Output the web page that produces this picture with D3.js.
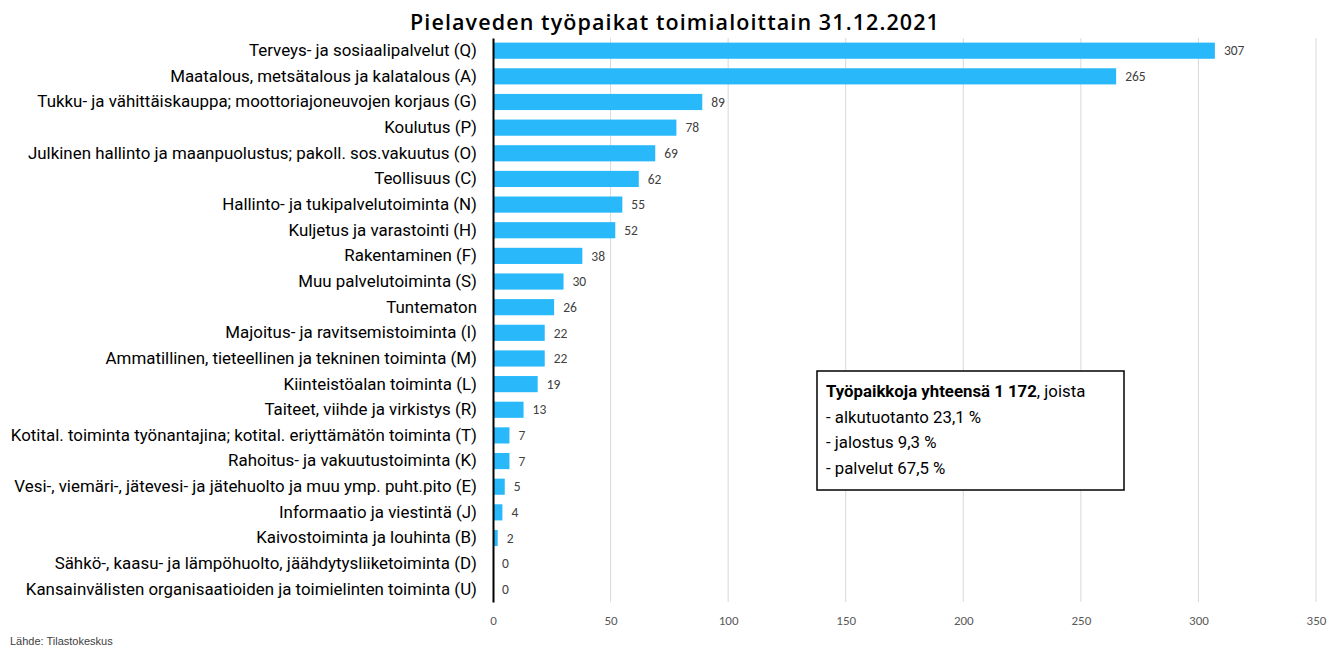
<!DOCTYPE html>
<html>
<head>
<meta charset="utf-8">
<script src="https://cdn.jsdelivr.net/npm/d3@7"></script>
<style>
  body { margin: 0; background: #fff; }
  svg { display: block; }
</style>
</head>
<body>
<div id="chart"></div>
<script>
const categories = [
    "Terveys- ja sosiaalipalvelut (Q)",
    "Maatalous, metsätalous ja kalatalous (A)",
    "Tukku- ja vähittäiskauppa; moottoriajoneuvojen korjaus (G)",
    "Koulutus (P)",
    "Julkinen hallinto ja maanpuolustus; pakoll. sos.vakuutus (O)",
    "Teollisuus (C)",
    "Hallinto- ja tukipalvelutoiminta (N)",
    "Kuljetus ja varastointi (H)",
    "Rakentaminen (F)",
    "Muu palvelutoiminta (S)",
    "Tuntematon",
    "Majoitus- ja ravitsemistoiminta (I)",
    "Ammatillinen, tieteellinen ja tekninen toiminta (M)",
    "Kiinteistöalan toiminta (L)",
    "Taiteet, viihde ja virkistys (R)",
    "Kotital. toiminta työnantajina; kotital. eriyttämätön toiminta (T)",
    "Rahoitus- ja vakuutustoiminta (K)",
    "Vesi-, viemäri-, jätevesi- ja jätehuolto ja muu ymp. puht.pito (E)",
    "Informaatio ja viestintä (J)",
    "Kaivostoiminta ja louhinta (B)",
    "Sähkö-, kaasu- ja lämpöhuolto, jäähdytysliiketoiminta (D)",
    "Kansainvälisten organisaatioiden ja toimielinten toiminta (U)"
];
const values = [307, 265, 89, 78, 69, 62, 55, 52, 38, 30, 26, 22, 22, 19, 13, 7, 7, 5, 4, 2, 0, 0];
const xTicks = [0, 50, 100, 150, 200, 250, 300, 350];
const titleText = "Pielaveden työpaikat toimialoittain 31.12.2021";
const boxLines = [
    { bold: "Työpaikkoja yhteensä 1 172", rest: ", joista" },
    { bold: "", rest: "- alkutuotanto 23,1 %" },
    { bold: "", rest: "- jalostus 9,3 %" },
    { bold: "", rest: "- palvelut 67,5 %" }
];
const sourceText = "Lähde: Tilastokeskus";

const width = 1329, height = 649;
const margin = { top: 38, right: 13, bottom: 47, left: 493 };
const labelFont = "Roboto, 'Liberation Sans', sans-serif";
const numFont = "Carlito, Calibri, 'Open Sans', sans-serif";

const svg = d3.select("#chart").append("svg")
    .attr("width", width).attr("height", height);

const x = d3.scaleLinear()
    .domain([0, 350])
    .range([margin.left, width - margin.right]);

const y = d3.scaleBand()
    .domain(categories)
    .range([margin.top, height - margin.bottom])
    .paddingInner(0.37)
    .paddingOuter(0.18);

// gridlines
svg.append("g")
    .selectAll("line")
    .data(xTicks.slice(1))
    .enter().append("line")
    .attr("x1", d => x(d)).attr("x2", d => x(d))
    .attr("y1", margin.top).attr("y2", height - margin.bottom)
    .attr("stroke", "#d9d9d9")
    .attr("stroke-width", 1);

// bars
svg.append("g")
    .selectAll("rect")
    .data(values)
    .enter().append("rect")
    .attr("x", x(0))
    .attr("y", (d, i) => y(categories[i]))
    .attr("width", d => x(d) - x(0))
    .attr("height", y.bandwidth())
    .attr("fill", "#29b9fb");

// value labels
svg.append("g")
    .selectAll("text")
    .data(values)
    .enter().append("text")
    .attr("x", d => x(d) + 9)
    .attr("y", (d, i) => y(categories[i]) + y.bandwidth() / 2)
    .attr("dy", "0.35em")
    .attr("font-family", numFont)
    .attr("font-size", 13.5)
    .attr("fill", "#404040")
    .text(d => d);

// category axis
const yAxis = svg.append("g")
    .attr("transform", `translate(${x(0)},0)`)
    .call(d3.axisLeft(y).tickSize(0).tickPadding(16));
yAxis.select(".domain").attr("stroke", "#000").attr("stroke-width", 2);
yAxis.selectAll("text")
    .attr("font-family", labelFont)
    .attr("font-size", 16.9)
    .attr("fill", "#000");

// value axis (labels only)
const xAxis = svg.append("g")
    .attr("transform", `translate(0,${height - margin.bottom})`)
    .call(d3.axisBottom(x).tickValues(xTicks).tickSize(0).tickPadding(14));
xAxis.select(".domain").remove();
xAxis.selectAll("text")
    .attr("font-family", numFont)
    .attr("font-size", 13)
    .attr("fill", "#595959");

// title
svg.append("text")
    .attr("x", 675).attr("y", 30)
    .attr("text-anchor", "middle")
    .attr("font-family", "'Open Sans', Roboto, sans-serif")
    .attr("font-weight", 600)
    .attr("font-size", 21.5)
    .attr("letter-spacing", 1.1)
    .attr("fill", "#000")
    .text(titleText);

// info box
const box = svg.append("g").attr("transform", "translate(817,371)");
box.append("rect")
    .attr("width", 307).attr("height", 119)
    .attr("fill", "#fff")
    .attr("stroke", "#000")
    .attr("stroke-width", 1.5);
const lines = box.selectAll("text")
    .data(boxLines)
    .enter().append("text")
    .attr("x", 9)
    .attr("y", (d, i) => 26 + i * 25.5)
    .attr("font-family", labelFont)
    .attr("font-size", 16.8)
    .attr("fill", "#000");
lines.append("tspan").attr("font-weight", "bold").text(d => d.bold);
lines.append("tspan").text(d => d.rest);

// source
svg.append("text")
    .attr("x", 10).attr("y", 645)
    .attr("font-family", "'Liberation Sans', Arial, sans-serif")
    .attr("font-size", 11)
    .attr("fill", "#404040")
    .text(sourceText);
</script>
</body>
</html>
